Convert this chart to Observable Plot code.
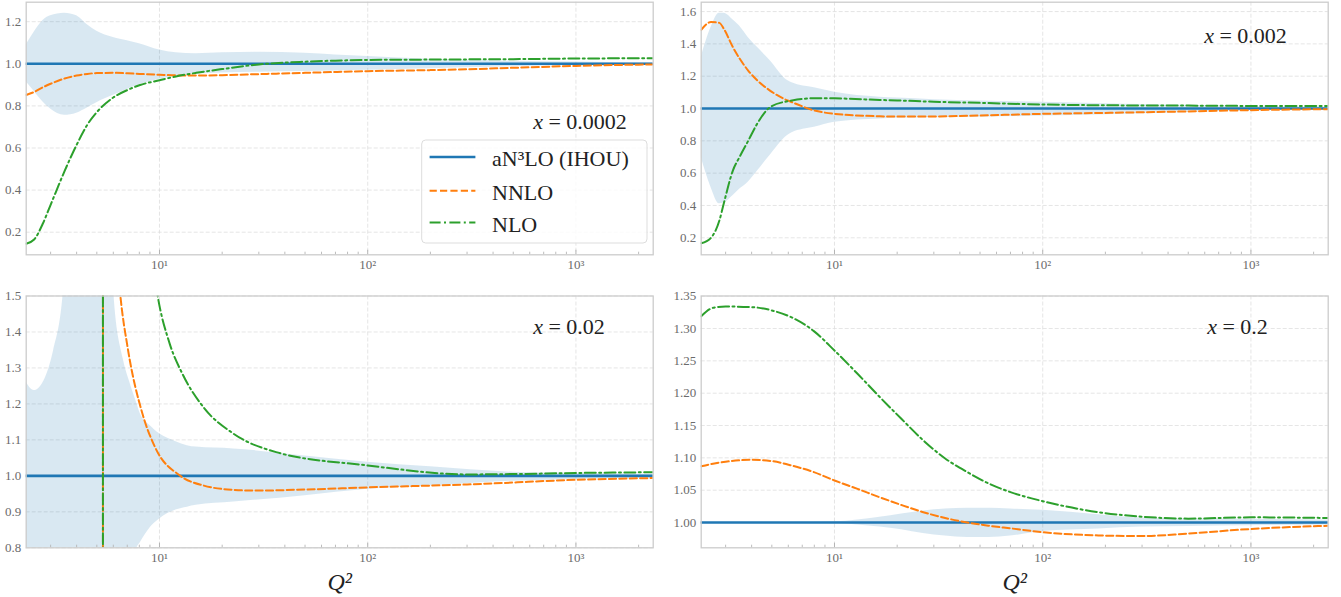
<!DOCTYPE html>
<html>
<head>
<meta charset="utf-8">
<script src="https://cdn.jsdelivr.net/npm/d3@7"></script>
<script src="https://cdn.jsdelivr.net/npm/@observablehq/plot@0.6"></script>
<style>
  html, body { margin: 0; padding: 0; background: #fff; }
  #fig { position: relative; width: 1341px; height: 597px; background: #fff; overflow: hidden; }
</style>
</head>
<body>
<div id="fig"></div>
<script>
// ---- shared axis settings ----
const xDomain = [2.29, 2350];
const xMajorTicks = [10, 100, 1000];
const xMinorTicks = [3, 4, 5, 6, 7, 8, 9, 20, 30, 40, 50, 60, 70, 80, 90,
                     200, 300, 400, 500, 600, 700, 800, 900, 2000];
const seriesNames = ["aN³LO (IHOU)", "NNLO", "NLO"];
const panelLabels = ["x = 0.0002", "x = 0.002", "x = 0.02", "x = 0.2"];
const xTitle = "Q²";
const refRatio = [1];   // aN3LO normalised to itself

// ---- x = 0.0002 ----
const p1Q2     = [2.29, 2.5, 2.75, 3, 3.5, 4, 4.5, 5, 6, 7, 8, 10, 12, 15, 20, 30, 50, 70, 100, 200, 300, 500, 1000, 2000, 2350];
const p1NNLO   = [0.852, 0.866, 0.888, 0.905, 0.930, 0.944, 0.952, 0.956, 0.957, 0.955, 0.952, 0.948, 0.945, 0.944, 0.946, 0.951, 0.957, 0.961, 0.965, 0.970, 0.974, 0.981, 0.990, 0.996, 0.997];
const p1NLO    = [0.145, 0.165, 0.240, 0.330, 0.490, 0.615, 0.710, 0.770, 0.840, 0.875, 0.898, 0.922, 0.940, 0.957, 0.975, 0.997, 1.010, 1.015, 1.018, 1.020, 1.021, 1.022, 1.025, 1.026, 1.026];
const p1BandLo = [0.915, 0.870, 0.820, 0.785, 0.755, 0.765, 0.790, 0.815, 0.850, 0.878, 0.900, 0.927, 0.940, 0.950, 0.956, 0.960, 0.963, 0.966, 0.969, 0.976, 0.981, 0.986, 0.992, 0.996, 0.996];
const p1BandHi = [1.090, 1.150, 1.205, 1.228, 1.240, 1.228, 1.185, 1.155, 1.125, 1.110, 1.095, 1.065, 1.052, 1.048, 1.052, 1.055, 1.050, 1.042, 1.035, 1.022, 1.017, 1.012, 1.008, 1.005, 1.005];

// ---- x = 0.002 ----
const p2Q2     = [2.29, 2.55, 2.8, 2.95, 3.25, 3.5, 3.85, 4.25, 4.9, 5.95, 6.25, 8, 10, 16.5, 20, 30, 50, 100, 200, 300, 500, 1000, 2350];
const p2NNLO   = [1.487, 1.535, 1.530, 1.490, 1.380, 1.310, 1.235, 1.175, 1.111, 1.050, 1.039, 0.988, 0.967, 0.952, 0.950, 0.951, 0.957, 0.967, 0.973, 0.977, 0.982, 0.990, 0.996];
const p2NLO    = [0.166, 0.199, 0.307, 0.420, 0.616, 0.700, 0.800, 0.905, 1.008, 1.045, 1.050, 1.064, 1.063, 1.053, 1.050, 1.042, 1.035, 1.025, 1.020, 1.019, 1.018, 1.016, 1.015];
const p2BandLo = [0.698, 0.513, 0.410, 0.415, 0.460, 0.500, 0.544, 0.610, 0.709, 0.833, 0.850, 0.884, 0.915, 0.935, 0.940, 0.943, 0.946, 0.953, 0.962, 0.968, 0.976, 0.986, 0.993];
const p2BandHi = [1.318, 1.500, 1.590, 1.590, 1.550, 1.510, 1.440, 1.380, 1.297, 1.173, 1.160, 1.128, 1.100, 1.070, 1.065, 1.055, 1.047, 1.039, 1.030, 1.025, 1.020, 1.012, 1.008];

// ---- x = 0.02 (ratio has a pole where aN3LO crosses zero) ----
const p3BandQ2   = [2.29, 2.5, 2.82, 3.1, 3.44, 4, 5, 5.6, 6.05, 6.7, 7.2, 7.8, 8.1, 9, 10, 12, 13.6, 15, 22.7, 50, 100, 200, 500, 1000, 2350];
const p3BandLo   = [0.5, 0.5, 0.5, 0.5, 0.5, 0.5, 0.5, 0.5, 0.5, 0.55, 0.7, 0.8, 0.815, 0.855, 0.88, 0.905, 0.913, 0.918, 0.927, 0.945, 0.963, 0.972, 0.985, 0.990, 0.995];
const p3BandHi   = [1.26, 1.237, 1.27, 1.348, 1.5, 2.2, 4.0, 2.5, 1.5, 1.325, 1.26, 1.2, 1.172, 1.14, 1.117, 1.095, 1.084, 1.08, 1.075, 1.055, 1.038, 1.025, 1.010, 1.007, 1.004];
const p3NNLOQ2   = [5.35, 5.36, 5.8, 6.49, 7.03, 8.29, 9.53, 12.6, 16.3, 22.7, 28.7, 50, 100, 300, 1000, 2350];
const p3NNLO     = [0.7, 5.0, 1.9, 1.5, 1.357, 1.172, 1.079, 1.0, 0.973, 0.961, 0.959, 0.962, 0.968, 0.976, 0.989, 0.994];
const p3NLOQ2    = [5.35, 5.36, 7, 8, 9.8, 11.2, 12.9, 16.3, 22.7, 36.3, 100, 300, 500, 1000, 2350];
const p3NLO      = [0.7, 20, 2.8, 1.94, 1.5, 1.367, 1.283, 1.19, 1.117, 1.066, 1.029, 1.004, 1.005, 1.008, 1.01];

// ---- x = 0.2 ----
const p4Q2     = [2.29, 2.61, 3, 4.04, 5, 6.25, 7.96, 10, 12.9, 16.5, 21, 26.7, 34, 43.4, 55.3, 70, 100, 185, 300, 500, 1000, 2350];
const p4NNLO   = [1.087, 1.091, 1.094, 1.097, 1.095, 1.088, 1.078, 1.065, 1.052, 1.039, 1.027, 1.016, 1.007, 1.000, 0.995, 0.991, 0.985, 0.980, 0.979, 0.983, 0.990, 0.995];
const p4NLO    = [1.319, 1.332, 1.334, 1.333, 1.328, 1.317, 1.296, 1.266, 1.230, 1.194, 1.160, 1.127, 1.099, 1.078, 1.060, 1.047, 1.033, 1.016, 1.009, 1.006, 1.008, 1.007];
const p4BandLo = [1, 1, 1, 1, 0.9999, 0.9998, 0.9997, 0.999, 0.996, 0.993, 0.989, 0.983, 0.979, 0.977, 0.977, 0.979, 0.986, 0.990, 0.993, 0.994, 0.995, 0.996];
const p4BandHi = [1, 1, 1, 1, 1.0001, 1.0002, 1.0003, 1.001, 1.004, 1.008, 1.013, 1.018, 1.021, 1.022, 1.022, 1.021, 1.019, 1.012, 1.007, 1.006, 1.005, 1.004];

// ---- y axes ----
const p1YTicks = [0.2, 0.4, 0.6, 0.8, 1.0, 1.2];
const p2YTicks = [0.2, 0.4, 0.6, 0.8, 1.0, 1.2, 1.4, 1.6];
const p3YTicks = [0.8, 0.9, 1.0, 1.1, 1.2, 1.3, 1.4, 1.5];
const p4YTicks = [1.00, 1.05, 1.10, 1.15, 1.20, 1.25, 1.30, 1.35];

// ---- styling ----
const FONT = "'Liberation Serif', 'DejaVu Serif', serif";
const C_REF = "#1f77b4", C_NNLO = "#ff7f0e", C_NLO = "#2ca02c";
const DASH_NNLO = "7.2,3.2";
const DASH_NLO = "11,3.4,2,3.4";
const seriesStyles = [
  {stroke: C_REF, strokeWidth: 2.6, dash: null},
  {stroke: C_NNLO, strokeWidth: 2, dash: DASH_NNLO},
  {stroke: C_NLO, strokeWidth: 2, dash: DASH_NLO}
];

const rows = (q, v) => q.map((d, i) => ({q2: d, v: v[i]}));
const bandRows = (q, lo, hi) => q.map((d, i) => ({q2: d, lo: lo[i], hi: hi[i]}));
const sup = {1: "¹", 2: "²", 3: "³"};
const fmtPow = d => "10" + sup[Math.round(Math.log10(d))];

const panels = [
  {pos: {left: 0, top: 0, width: 670, height: 290}, m: [1.7, 17.3, 35.7, 25.7],
   yDomain: [0.0926, 1.2926], yTicks: p1YTicks, yFmt: d3.format(".1f"),
   band: bandRows(p1Q2, p1BandLo, p1BandHi), nnlo: rows(p1Q2, p1NNLO), nlo: rows(p1Q2, p1NLO),
   label: panelLabels[0], labelAt: [507, 120], xTitle: false},
  {pos: {left: 670, top: 0, width: 671, height: 290}, m: [1.7, 13.3, 35.7, 30.7],
   yDomain: [0.0947, 1.658], yTicks: p2YTicks, yFmt: d3.format(".1f"),
   band: bandRows(p2Q2, p2BandLo, p2BandHi), nnlo: rows(p2Q2, p2NNLO), nlo: rows(p2Q2, p2NLO),
   label: panelLabels[1], labelAt: [503, 33.3], xTitle: false},
  {pos: {left: 0, top: 290, width: 670, height: 307}, m: [5.5, 17.3, 49.7, 25.7],
   yDomain: [0.8, 1.5], yTicks: p3YTicks, yFmt: d3.format(".1f"),
   band: bandRows(p3BandQ2, p3BandLo, p3BandHi), nnlo: rows(p3NNLOQ2, p3NNLO), nlo: rows(p3NLOQ2, p3NLO),
   label: panelLabels[2], labelAt: [507, 31.2], xTitle: true},
  {pos: {left: 670, top: 290, width: 671, height: 307}, m: [5.5, 13.3, 49.7, 30.7],
   yDomain: [0.9609, 1.3503], yTicks: p4YTicks, yFmt: d3.format(".2f"),
   band: bandRows(p4Q2, p4BandLo, p4BandHi), nnlo: rows(p4Q2, p4NNLO), nlo: rows(p4Q2, p4NLO),
   label: panelLabels[3], labelAt: [506, 31.2], xTitle: true}
];

const fig = document.getElementById("fig");

for (const p of panels) {
  const [mt, mr, mb, ml] = p.m;
  const frameH = p.pos.height - mt - mb;
  const gridStyle = {stroke: "#dedede", strokeOpacity: 1, strokeWidth: 0.8, strokeDasharray: "4,2"};
  const marks = [
    Plot.gridX({ticks: xMajorTicks, ...gridStyle}),
    Plot.gridY({ticks: p.yTicks, ...gridStyle}),
    Plot.areaY(p.band, {x: "q2", y1: "lo", y2: "hi", fill: C_REF, fillOpacity: 0.17, curve: "monotone-x", clip: true}),
    Plot.ruleY(refRatio, {y: d => d, stroke: seriesStyles[0].stroke, strokeWidth: seriesStyles[0].strokeWidth}),
    Plot.line(p.nnlo, {x: "q2", y: "v", stroke: seriesStyles[1].stroke, strokeWidth: seriesStyles[1].strokeWidth,
      strokeDasharray: seriesStyles[1].dash, curve: "monotone-x", clip: true}),
    Plot.line(p.nlo, {x: "q2", y: "v", stroke: seriesStyles[2].stroke, strokeWidth: seriesStyles[2].strokeWidth,
      strokeDasharray: seriesStyles[2].dash, curve: "monotone-x", clip: true}),
    // inward ticks along the bottom edge
    Plot.ruleX(xMinorTicks, {x: d => d, insetTop: frameH - 2.6, stroke: "#b5b5b5", strokeWidth: 0.9}),
    Plot.ruleX(xMajorTicks, {x: d => d, insetTop: frameH - 4.6, stroke: "#b5b5b5", strokeWidth: 1}),
    Plot.frame({stroke: "#cccccc", strokeWidth: 1.3}),
    Plot.axisY({ticks: p.yTicks, tickSize: 0, tickPadding: 5, tickFormat: p.yFmt, label: null, fontSize: 13}),
    Plot.axisX({ticks: xMajorTicks, tickSize: 0, tickPadding: 5, tickFormat: fmtPow, label: null, fontSize: 13}),
    Plot.text([p.label], {text: d => d, frameAnchor: "top-left", dx: p.labelAt[0], dy: p.labelAt[1],
      textAnchor: "start", lineAnchor: "middle", fontSize: 22, fill: "#222"})
  ];
  if (p.xTitle) {
    marks.push(Plot.text([xTitle], {text: d => d, frameAnchor: "bottom", dy: 34.4, lineAnchor: "middle",
      fontSize: 24, fontStyle: "italic", fill: "#222"}));
  }
  const svg = Plot.plot({
    width: p.pos.width, height: p.pos.height,
    marginTop: mt, marginRight: mr, marginBottom: mb, marginLeft: ml,
    x: {type: "log", domain: xDomain},
    y: {domain: p.yDomain},
    style: {fontFamily: FONT, fontSize: "13px", color: "#6b6b6b", background: "transparent", overflow: "visible"},
    marks
  });
  svg.style.position = "absolute";
  svg.style.left = p.pos.left + "px";
  svg.style.top = p.pos.top + "px";
  // italic variable name in the panel annotation
  d3.select(svg).selectAll("text").filter(function () {
    return this.textContent.startsWith("x = ");
  }).each(function () {
    const rest = this.textContent.slice(1);
    this.textContent = "";
    d3.select(this).append("tspan").attr("font-style", "italic").text("x");
    d3.select(this).append("tspan").text(rest);
  });
  fig.appendChild(svg);
}

// ---- legend in the first panel ----
const legend = d3.create("svg")
  .attr("width", 1341).attr("height", 597)
  .style("position", "absolute").style("left", "0px").style("top", "0px")
  .style("pointer-events", "none");
legend.append("rect")
  .attr("x", 421.7).attr("y", 140).attr("width", 225.3).attr("height", 103)
  .attr("rx", 4).attr("fill", "#fff").attr("fill-opacity", 0.8)
  .attr("stroke", "#dddddd").attr("stroke-width", 1);
const rowY = [157, 190.7, 222.6];
seriesNames.forEach((name, i) => {
  const s = seriesStyles[i];
  legend.append("line")
    .attr("x1", 429.6).attr("x2", 475.4).attr("y1", rowY[i]).attr("y2", rowY[i])
    .attr("stroke", s.stroke).attr("stroke-width", s.strokeWidth)
    .attr("stroke-dasharray", s.dash);
  legend.append("text")
    .attr("x", 492).attr("y", rowY[i] + 1.5)
    .attr("dominant-baseline", "central")
    .attr("font-family", FONT).attr("font-size", 22).attr("fill", "#222")
    .text(name);
});
fig.appendChild(legend.node());
</script>
</body>
</html>
